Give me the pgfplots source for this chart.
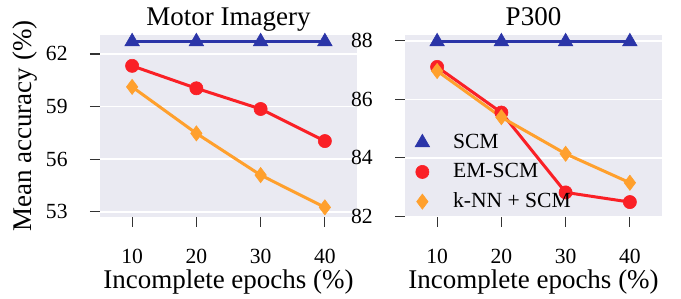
\documentclass[border=0pt]{standalone}
\usepackage{fontspec}
\setmainfont{Liberation Serif}
\usepackage{pgfplots}
\pgfplotsset{compat=1.18}
\definecolor{bgc}{HTML}{EAEAF2}
\definecolor{scmc}{RGB}{43,53,168}
\definecolor{emc}{RGB}{250,32,38}
\definecolor{knnc}{RGB}{255,160,45}
\pgfplotsset{
 mystyle/.style={
  scale only axis, width=128.5pt, height=91pt,
  axis background/.style={fill=bgc},
  axis line style={draw=none},
  ymajorgrids, grid style={white, line width=0.8pt},
  xmin=5, xmax=45, xtick={10,20,30,40},
  tick align=outside, xtick pos=left, ytick pos=left,
  major tick length=5pt,
  tick style={black!80, line width=0.6pt},
  /pgf/number format/assume math mode=true,
  ticklabel style={font=\fontsize{10.8}{12}\selectfont, inner sep=0pt},
  xticklabel style={anchor=base, yshift=-18.4pt},
  yticklabel style={anchor=east, xshift=-11pt},
  label style={font=\fontsize{13.5}{15}\selectfont},
  every axis title shift=0pt,
  title style={font=\fontsize{13.5}{15}\selectfont, at={(axis description cs:0.5,1)}, anchor=base, yshift=4.5pt},
  xlabel={Incomplete epochs (\(\%\))},
  xlabel style={at={(axis description cs:0.5,0)}, anchor=center, yshift=-32.5pt},
  every axis plot/.append style={line width=1.5pt, mark options={solid, line width=0.3pt}},
 },
 myleg/.style={only marks, legend image code/.code={\draw[##1] plot coordinates {(0pt,0pt)}; \path (12.6pt,0pt);}},
}
\begin{document}
\begin{tikzpicture}
\useasboundingbox (-50pt,-41pt) rectangle (290.5pt,108.5pt);
\begin{axis}[mystyle, at={(0pt,0pt)}, anchor=south west,
  title={Motor Imagery},
  ymin=52.7, ymax=63.08, ytick={53,56,59,62},
  ylabel={Mean accuracy (\(\%\))},
  ylabel style={at={(axis description cs:0,0.5)}, anchor=center, yshift=37.5pt},
]
\addplot[scmc, mark=triangle*, mark size=4.2pt] coordinates {(10,62.70) (20,62.70) (30,62.70) (40,62.70)};
\addplot[emc, mark=*, mark size=3.3pt] coordinates {(10,61.32) (20,60.04) (30,58.86) (40,57.03)};
\addplot[knnc, mark=diamond*, mark size=3.8pt] coordinates {(10,60.12) (20,57.47) (30,55.09) (40,53.25)};
\end{axis}
\begin{axis}[mystyle, at={(152.5pt,0pt)}, anchor=south west,
  title={P300},
  ymin=81.98, ymax=88.2, ytick={82,84,86,88},
  legend style={at={(axis description cs:0,0)}, anchor=south west, draw=none, fill=none,
    font=\fontsize{10.8}{12}\selectfont, row sep=2pt, inner sep=0pt, xshift=4.85pt, yshift=1pt},
  legend cell align=left,
]
\addplot[scmc, mark=triangle*, mark size=4.2pt, forget plot] coordinates {(10,87.97) (20,87.97) (30,87.97) (40,87.97)};
\addplot[emc, mark=*, mark size=3.3pt, forget plot] coordinates {(10,87.11) (20,85.55) (30,82.82) (40,82.49)};
\addplot[knnc, mark=diamond*, mark size=3.8pt, forget plot] coordinates {(10,86.97) (20,85.39) (30,84.14) (40,83.15)};
\addlegendimage{myleg, scmc, mark=triangle*, mark size=4.2pt, mark options={line width=0.3pt}}
\addlegendentry{SCM}
\addlegendimage{myleg, emc, mark=*, mark size=3.3pt, mark options={line width=0.3pt}}
\addlegendentry{EM-SCM}
\addlegendimage{myleg, knnc, mark=diamond*, mark size=3.8pt, mark options={line width=0.3pt}}
\addlegendentry{k-NN + SCM}
\end{axis}
\end{tikzpicture}
\end{document}
